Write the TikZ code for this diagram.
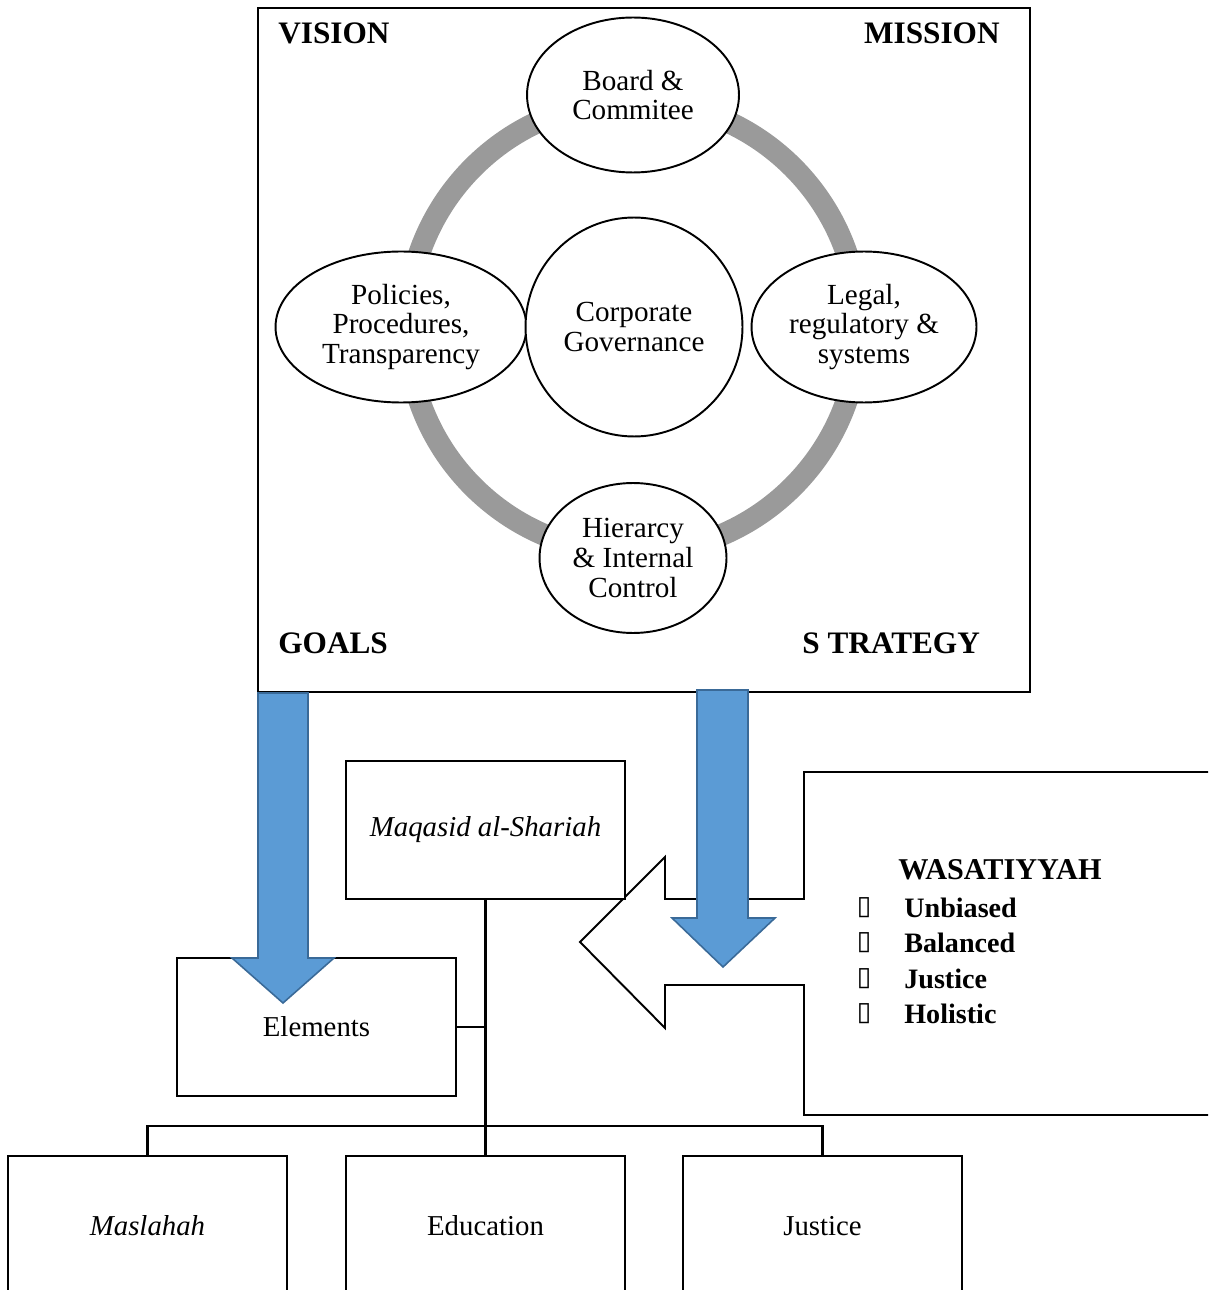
\documentclass[tikz,border=0pt]{standalone}
\usepackage{fontspec}
\setmainfont{Liberation Serif}
\newfontfamily\symfont{DejaVu Sans}
\usetikzlibrary{shapes.geometric}
\definecolor{ringgray}{HTML}{9A9A9A}
\definecolor{arrowblue}{HTML}{5B9BD5}
\definecolor{arrowedge}{HTML}{3A6A98}
\begin{document}
\begin{tikzpicture}[x=0.02cm,y=-0.02cm,
  oval/.style={ellipse, draw, line width=1.1pt, fill=white, inner sep=0pt,
    font=\fontsize{16.6}{17}\selectfont, align=center},
  boxnode/.style={rectangle, draw, line width=1.1pt, fill=white,
    minimum width=5.58cm, minimum height=2.76cm, inner sep=0pt,
    font=\fontsize{16.4}{17}\selectfont, align=center},
  corner/.style={font=\fontsize{17.8}{20}\selectfont\bfseries, inner sep=0pt},
  wasa/.style={font=\fontsize{16}{18}\selectfont\bfseries, inner sep=0pt, anchor=west},
  blockarrow/.style={fill=arrowblue, draw=arrowedge, line width=0.9pt, line join=miter},
  link/.style={line width=1.5pt}
]
\useasboundingbox (0,0) rectangle (1208,1290);
\clip (0,0) rectangle (1208,1290);

% outer frame of the governance panel
\node[rectangle, draw, line width=1.1pt, minimum width=15.44cm, minimum height=13.68cm,
  inner sep=0pt] (frame) at (644,350) {};

% corner labels
\node[corner, anchor=west] (vision) at (278,33) {VISION};
\node[corner, anchor=east] (mission) at (1000,33) {MISSION};
\node[corner, anchor=west] (goals) at (278,643) {GOALS};
\node[corner, anchor=west] (strategy) at (802,643) {S TRATEGY};

% grey ring behind the ellipses
\draw[ringgray, line width=0.44cm] (633,327) circle[radius=4.52cm];

% ellipses
\node[oval, minimum width=4.24cm, minimum height=3.1cm] (board) at (633,95) {Board \&\\Commitee};
\node[oval, minimum width=5.02cm, minimum height=3.02cm] (policies) at (401,327) {Policies,\\Procedures,\\Transparency};
\node[oval, minimum width=4.5cm, minimum height=3.02cm] (legal) at (864,327) {Legal,\\regulatory \&\\systems};
\node[oval, minimum width=3.74cm, minimum height=3.0cm] (hier) at (633,558) {Hierarcy\\\& Internal\\Control};
\node[oval, minimum width=4.34cm, minimum height=4.38cm] (corp) at (634,327) {Corporate\\Governance};

% callout with left-pointing notch arrow
\draw[line width=1.1pt, line join=miter, fill=white]
  (1230,772) -- (804,772) -- (804,899) -- (665,899) -- (665,857) -- (580,942)
  -- (665,1028) -- (665,985) -- (804,985) -- (804,1115) -- (1230,1115);

\node[wasa, font=\fontsize{17.2}{18}\selectfont\bfseries] (wtitle) at (898,870) {WASATIYYAH};
\foreach \y/\t/\n in {908/Unbiased/a, 943/Balanced/b, 979/Justice/c, 1014/Holistic/d}{
  \node[inner sep=0pt, font=\symfont\fontsize{15}{16}\selectfont] (bul\n) at (864,\y) {▯};
  \node[wasa] (item\n) at (904,\y) {\t};
}

% hierarchy boxes
\node[boxnode] (maqasid) at (485.5,830) {\textit{Maqasid al-Shariah}};
\node[boxnode] (elements) at (316.5,1027) {Elements};
\node[boxnode, minimum height=2.8cm] (maslahah) at (147.5,1226) {\textit{Maslahah}};
\node[boxnode, minimum height=2.8cm] (education) at (485.5,1226) {Education};
\node[boxnode, minimum height=2.8cm] (justice) at (822.5,1226) {Justice};

% tree connectors
\coordinate (bar) at (485.5,1126);
\draw[link] (maqasid.south) -- (education.north);
\draw[link] (elements.east) -- (elements.east -| maqasid.south);
\draw[link] (maslahah.north) |- (bar) -| (justice.north);

% blue block arrows
\draw[blockarrow] (258,693) -- (308,693) -- (308,958) -- (334,958) -- (283,1003)
  -- (232,958) -- (258,958) -- cycle;
\draw[blockarrow] (697,690) -- (748,690) -- (748,918) -- (775,918) -- (723,967)
  -- (672,918) -- (697,918) -- cycle;
\end{tikzpicture}
\end{document}
